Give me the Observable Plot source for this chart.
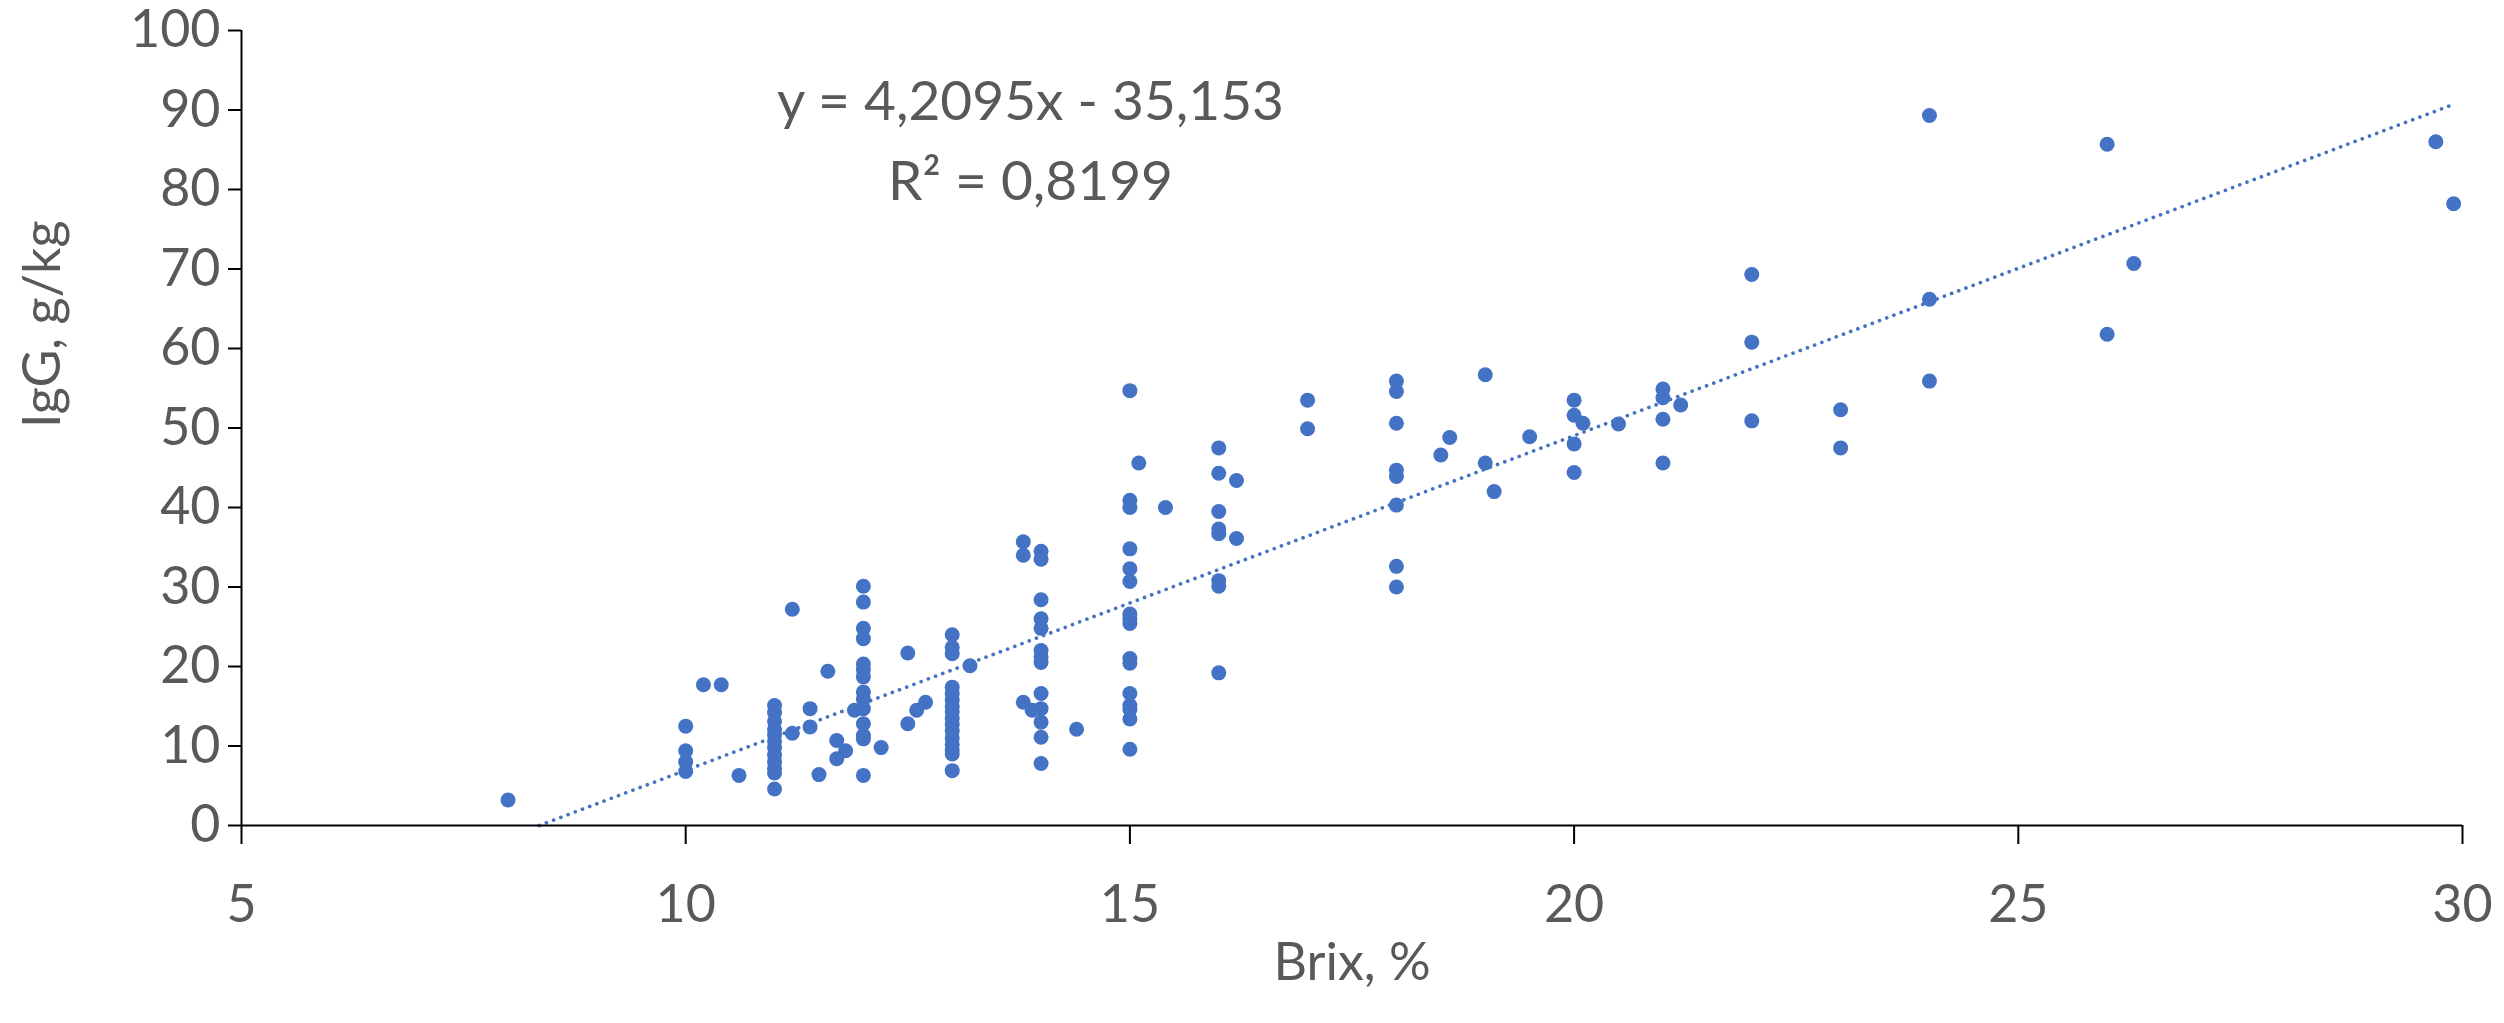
<!DOCTYPE html>
<html>
<head>
<meta charset="utf-8">
<script src="https://cdn.jsdelivr.net/npm/d3@7"></script>
<script src="https://cdn.jsdelivr.net/npm/@observablehq/plot@0.6"></script>
<style>
  html, body { margin: 0; padding: 0; background: #ffffff; }
</style>
</head>
<body>
<div id="chart"></div>
<script>
// ---- Data ----
const brix = [
  8,
  10, 10, 10, 10,
  10.2, 10.4, 10.6,
  11, 11, 11, 11, 11, 11, 11, 11, 11, 11, 11, 11,
  11.2, 11.2, 11.4, 11.4, 11.5, 11.6, 11.7, 11.8, 11.7, 11.9,
  12, 12, 12, 12, 12, 12, 12, 12, 12, 12, 12, 12, 12, 12,
  12.2, 12.5, 12.5, 12.6, 12.7,
  13, 13, 13, 13, 13, 13, 13, 13, 13, 13, 13, 13, 13, 13, 13, 13,
  13.2, 13.8, 13.8, 13.8, 13.9,
  14, 14, 14, 14, 14, 14, 14, 14, 14, 14, 14, 14, 14,
  14.4,
  15, 15, 15, 15, 15, 15, 15, 15, 15, 15, 15, 15, 15, 15, 15, 15,
  15.1, 15.4,
  16, 16, 16, 16, 16, 16, 16, 16,
  16.2, 16.2,
  17, 17,
  18, 18, 18, 18, 18, 18, 18, 18,
  18.5, 18.6,
  19, 19, 19.1, 19.5,
  20, 20, 20, 20, 20.1, 20.5,
  21, 21, 21, 21, 21.2,
  22, 22, 22,
  23, 23,
  24, 24, 24,
  26, 26, 26.3,
  29.7, 29.9
];
const igg = [
  3.2,
  12.5, 9.4, 8.0, 6.8,
  17.7, 17.7, 6.3,
  15.1, 14.2, 13.1, 12.1, 11.4, 10.6, 9.8, 8.9, 8.0, 7.2, 6.6, 4.6,
  27.2, 11.6, 14.7, 12.4, 6.4, 19.4, 10.7, 9.4, 8.4, 14.5,
  30.1, 28.1, 24.8, 23.5, 20.3, 19.6, 18.7, 16.8, 15.9, 14.7, 12.8, 11.3, 10.9, 6.3,
  9.8, 21.7, 12.8, 14.5, 15.5,
  24.0, 22.4, 21.6, 17.4, 16.6, 15.8, 15.0, 14.3, 13.5, 12.7, 11.9, 11.0, 10.2, 9.5, 9.0, 6.9,
  20.1, 35.7, 34.0, 15.5, 14.5,
  34.5, 33.5, 28.4, 26.0, 24.8, 22.0, 21.2, 20.5, 16.6, 14.7, 13.0, 11.1, 7.8,
  12.1,
  54.7, 40.9, 40.0, 34.8, 32.3, 30.7, 26.6, 26.0, 25.4, 21.0, 20.4, 16.6, 15.1, 14.6, 13.4, 9.6,
  45.6, 40.0,
  47.5, 44.3, 39.5, 37.3, 36.7, 30.8, 30.1, 19.2,
  43.4, 36.1,
  53.5, 49.9,
  55.9, 54.6, 50.6, 44.7, 43.9, 40.3, 32.6, 30.0,
  46.6, 48.8,
  56.7, 45.6, 42.0, 48.9,
  53.5, 51.6, 48.0, 44.4, 50.6, 50.5,
  54.9, 53.8, 51.1, 45.6, 52.9,
  69.3, 60.8, 50.9,
  52.3, 47.5,
  89.3, 66.2, 55.9,
  85.7, 61.8, 70.7,
  86.0, 78.2
];
const xTicks = [5, 10, 15, 20, 25, 30];
const yTicks = [0, 10, 20, 30, 40, 50, 60, 70, 80, 90, 100];
const trendSlope = 4.2095;
const trendIntercept = -35.153;
const equationLines = ["y = 4,2095x - 35,153", "R² = 0,8199"];
const xTitle = "Brix, %";
const yTitle = "IgG, g/kg";

// ---- Derived tables ----
const points = brix.map((b, i) => ({brix: b, igg: igg[i]}));
const trendStart = -trendIntercept / trendSlope; // where the line meets y = 0
const trendEnd = d3.max(brix);
const trend = [trendStart, trendEnd].map(x => ({brix: x, igg: trendSlope * x + trendIntercept}));

const blue = "#4472C4";
const grey = "#595959";
const font = "Lato, 'Open Sans', sans-serif";

const chart = Plot.plot({
  width: 2504,
  height: 1023,
  marginLeft: 241,
  marginRight: 42,
  marginTop: 30,
  marginBottom: 198,
  style: {fontFamily: font, fontSize: "52px", color: grey, background: "#ffffff", overflow: "visible"},
  x: {domain: [5, 30], ticks: xTicks},
  y: {domain: [0, 100], ticks: yTicks},
  marks: [
    Plot.line(trend, {x: "brix", y: "igg", stroke: blue, strokeWidth: 3.6, strokeDasharray: "0.1 7.6", strokeLinecap: "round"}),
    Plot.dot(points, {x: "brix", y: "igg", r: 7.5, fill: blue, stroke: "none"}),
    Plot.axisX({ticks: xTicks, tickSize: 19, tickPadding: 41, stroke: "#000", strokeWidth: 2, fill: grey, fontSize: 52, label: null}),
    Plot.axisY({ticks: yTicks, tickSize: 13, tickPadding: 8, stroke: "#000", strokeWidth: 2, fill: grey, fontSize: 52, label: null}),
    Plot.ruleY([0], {stroke: "#000", strokeWidth: 2}),
    Plot.ruleX([5], {stroke: "#000", strokeWidth: 2}),
    Plot.text([xTitle], {text: d => d, frameAnchor: "bottom", dy: 154, fill: grey, fontSize: 52}),
    Plot.text([yTitle], {text: d => d, frameAnchor: "left", dx: -198, rotate: -90, fill: grey, fontSize: 52}),
    Plot.text([equationLines[0]], {text: d => d, frameAnchor: "top-left", dx: 789, dy: 50, textAnchor: "middle", fill: grey, fontSize: 55}),
    Plot.text([equationLines[1]], {text: d => d, frameAnchor: "top-left", dx: 789, dy: 130, textAnchor: "middle", fill: grey, fontSize: 55})
  ]
});
document.getElementById("chart").appendChild(chart);
</script>
</body>
</html>
